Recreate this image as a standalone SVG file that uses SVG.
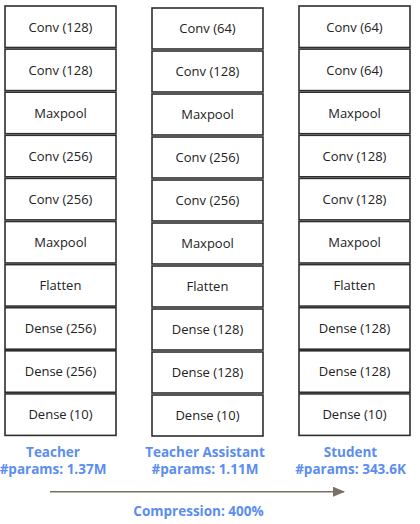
<svg xmlns="http://www.w3.org/2000/svg" width="420" height="524" viewBox="0 0 420 524">
<defs>
<style>
.box{fill:#fff;stroke:#2e2e2e;stroke-width:1.6}
.t{font-family:"Open Sans","Noto Sans","DejaVu Sans",sans-serif;font-size:13px;fill:#222;text-anchor:middle}
.lbl{font-family:"Open Sans","Noto Sans","DejaVu Sans",sans-serif;font-size:13.5px;font-weight:bold;fill:#5b8def;text-anchor:middle}
</style>
<marker id="ah" viewBox="0 0 12 10" refX="11" refY="5" markerWidth="12" markerHeight="10" markerUnits="userSpaceOnUse" orient="auto">
<path d="M0,0 L12,5 L0,10 Z" fill="#7a7165"/>
</marker>
</defs>
<rect width="420" height="524" fill="#fff"/>
<g id="teacher">
<g id="t1"><rect class="box" x="5" y="6" width="111" height="41.5"/><text class="t" x="60.5" y="31.5">Conv (128)</text></g>
<g id="t2"><rect class="box" x="5" y="49.1" width="111" height="41.5"/><text class="t" x="60.5" y="74.6">Conv (128)</text></g>
<g id="t3"><rect class="box" x="5" y="92.2" width="111" height="41.5"/><text class="t" x="60.5" y="117.7">Maxpool</text></g>
<g id="t4"><rect class="box" x="5" y="135.3" width="111" height="41.5"/><text class="t" x="60.5" y="160.8">Conv (256)</text></g>
<g id="t5"><rect class="box" x="5" y="178.4" width="111" height="41.5"/><text class="t" x="60.5" y="203.9">Conv (256)</text></g>
<g id="t6"><rect class="box" x="5" y="221.5" width="111" height="41.5"/><text class="t" x="60.5" y="247">Maxpool</text></g>
<g id="t7"><rect class="box" x="5" y="264.6" width="111" height="41.5"/><text class="t" x="60.5" y="290.1">Flatten</text></g>
<g id="t8"><rect class="box" x="5" y="307.7" width="111" height="41.5"/><text class="t" x="60.5" y="333.2">Dense (256)</text></g>
<g id="t9"><rect class="box" x="5" y="350.8" width="111" height="41.5"/><text class="t" x="60.5" y="376.3">Dense (256)</text></g>
<g id="t10"><rect class="box" x="5" y="393.9" width="111" height="41.5"/><text class="t" x="60.5" y="419.4">Dense (10)</text></g>
</g>
<g id="assistant">
<g id="a1"><rect class="box" x="152" y="8" width="111" height="41"/><text class="t" x="207.5" y="33.3">Conv (64)</text></g>
<g id="a2"><rect class="box" x="152" y="51" width="111" height="41"/><text class="t" x="207.5" y="76.3">Conv (128)</text></g>
<g id="a3"><rect class="box" x="152" y="94" width="111" height="41"/><text class="t" x="207.5" y="119.3">Maxpool</text></g>
<g id="a4"><rect class="box" x="152" y="137" width="111" height="41"/><text class="t" x="207.5" y="162.3">Conv (256)</text></g>
<g id="a5"><rect class="box" x="152" y="180" width="111" height="41"/><text class="t" x="207.5" y="205.3">Conv (256)</text></g>
<g id="a6"><rect class="box" x="152" y="223" width="111" height="41"/><text class="t" x="207.5" y="248.3">Maxpool</text></g>
<g id="a7"><rect class="box" x="152" y="266" width="111" height="41"/><text class="t" x="207.5" y="291.3">Flatten</text></g>
<g id="a8"><rect class="box" x="152" y="309" width="111" height="41"/><text class="t" x="207.5" y="334.3">Dense (128)</text></g>
<g id="a9"><rect class="box" x="152" y="352" width="111" height="41"/><text class="t" x="207.5" y="377.3">Dense (128)</text></g>
<g id="a10"><rect class="box" x="152" y="395" width="111" height="41"/><text class="t" x="207.5" y="420.3">Dense (10)</text></g>
</g>
<g id="student">
<g id="s1"><rect class="box" x="299" y="6" width="111" height="41.5"/><text class="t" x="354.5" y="31.5">Conv (64)</text></g>
<g id="s2"><rect class="box" x="299" y="49.1" width="111" height="41.5"/><text class="t" x="354.5" y="74.6">Conv (64)</text></g>
<g id="s3"><rect class="box" x="299" y="92.2" width="111" height="41.5"/><text class="t" x="354.5" y="117.7">Maxpool</text></g>
<g id="s4"><rect class="box" x="299" y="135.3" width="111" height="41.5"/><text class="t" x="354.5" y="160.8">Conv (128)</text></g>
<g id="s5"><rect class="box" x="299" y="178.4" width="111" height="41.5"/><text class="t" x="354.5" y="203.9">Conv (128)</text></g>
<g id="s6"><rect class="box" x="299" y="221.5" width="111" height="41.5"/><text class="t" x="354.5" y="247">Maxpool</text></g>
<g id="s7"><rect class="box" x="299" y="264.6" width="111" height="41.5"/><text class="t" x="354.5" y="290.1">Flatten</text></g>
<g id="s8"><rect class="box" x="299" y="307.7" width="111" height="41.5"/><text class="t" x="354.5" y="333.2">Dense (128)</text></g>
<g id="s9"><rect class="box" x="299" y="350.8" width="111" height="41.5"/><text class="t" x="354.5" y="376.3">Dense (128)</text></g>
<g id="s10"><rect class="box" x="299" y="393.9" width="111" height="41.5"/><text class="t" x="354.5" y="419.4">Dense (10)</text></g>
</g>
<g id="labels">
<text class="lbl" x="53" y="457">Teacher</text>
<text class="lbl" x="53" y="474">#params: 1.37M</text>
<text class="lbl" x="205" y="457">Teacher Assistant</text>
<text class="lbl" x="205" y="474">#params: 1.11M</text>
<text class="lbl" x="350.5" y="457">Student</text>
<text class="lbl" x="350.5" y="474">#params: 343.6K</text>
<text class="lbl" x="198.5" y="516">Compression: 400%</text>
</g>
<g id="connectors">
<line x1="50" y1="491.7" x2="344" y2="491.7" stroke="#7a7165" stroke-width="1.6" marker-end="url(#ah)"/>
</g>
</svg>
